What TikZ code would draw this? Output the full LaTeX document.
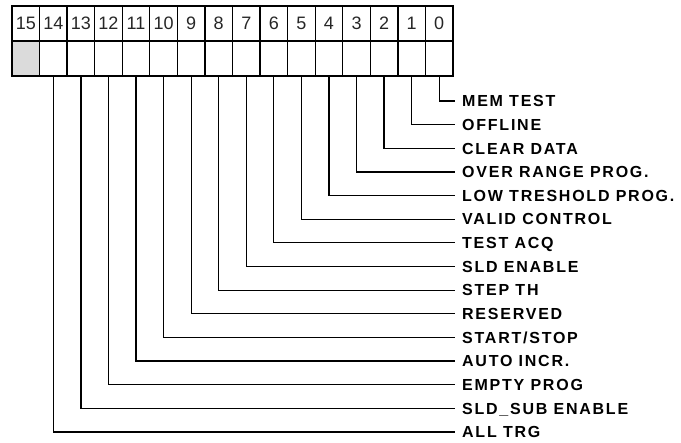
\documentclass[tikz,border=0pt]{standalone}
\usepackage{fontspec}
\setmainfont{Liberation Sans}
\begin{document}
\begin{tikzpicture}[x=1pt,y=-1pt,
  cell/.style={draw,line width=1.3pt,minimum width=27.56pt,minimum height=35pt,inner sep=0pt,outer sep=0pt,anchor=north west},
  num/.style={cell,text=black!85,font=\fontsize{18}{18}\selectfont},
  lab/.style={anchor=west,inner xsep=7pt,inner ysep=0pt,text height=11.5pt,text depth=0pt,font=\fontsize{16}{16}\selectfont\bfseries\addfontfeature{LetterSpace=11}},
  wire/.style={line width=1.2pt}]
\useasboundingbox (0,0) rectangle (681,443);
\foreach \i in {0,...,15} {
  \pgfmathsetmacro\xx{12+(15-\i)*27.5625}
  \node[num] (n\i) at (\xx,6) {\i};
}
\foreach \i in {0,...,14} {
  \pgfmathsetmacro\xx{12+(15-\i)*27.5625}
  \node[cell] (b\i) at (\xx,41) {};
}
\node[cell,fill=black!14] (b15) at (12,41) {};
\foreach \i/\t in {0/{MEM TEST},1/{OFFLINE},2/{CLEAR DATA},3/{OVER RANGE PROG.},4/{LOW TRESHOLD PROG.},5/{VALID CONTROL},6/{TEST ACQ},7/{SLD ENABLE},8/{STEP TH},9/{RESERVED},10/{START/STOP},11/{AUTO INCR.},12/{EMPTY PROG},13/{SLD\_SUB ENABLE},14/{ALL TRG}} {
  \node[lab] (l\i) at (455,{101+23.64*\i}) {\t};
  \draw[wire] (b\i.south) |- (l\i.west);
}
\end{tikzpicture}
\end{document}
